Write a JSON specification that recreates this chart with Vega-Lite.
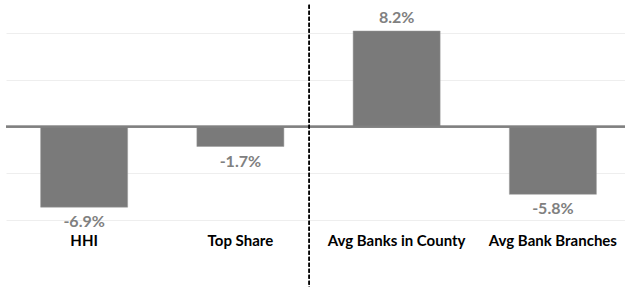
{
  "$schema": "https://vega.github.io/schema/vega-lite/v6.json",
  "autosize": "none",
  "width": 619,
  "height": 210,
  "padding": {"left": 6, "top": 10, "right": 0, "bottom": 67},
  "background": "white",
  "config": {"view": {"stroke": null}, "font": "Lato"},
  "data": {"values": [
    {"metric": "HHI", "value": -0.069, "label": "-6.9%"},
    {"metric": "Top Share", "value": -0.017, "label": "-1.7%"},
    {"metric": "Avg Banks in County", "value": 0.082, "label": "8.2%"},
    {"metric": "Avg Bank Branches", "value": -0.058, "label": "-5.8%"}
  ]},
  "encoding": {
    "x": {"field": "metric", "type": "nominal", "sort": null,
      "scale": {"range": [0, 625], "paddingInner": 0.443, "paddingOuter": 0.2215},
      "axis": {"title": null, "domain": false, "ticks": false, "labelAngle": 0,
        "labelFont": "Lato", "labelFontSize": 15, "labelFontWeight": "bold", "labelColor": "#000000",
        "labelPadding": 13}}
  },
  "layer": [
    {
      "mark": {"type": "bar", "color": "#7a7a7a", "stroke": "#9a9a9a", "strokeWidth": 0.5},
      "encoding": {
        "y": {"field": "value", "type": "quantitative",
          "scale": {"domain": [-0.08, 0.1], "nice": false, "zero": false},
          "axis": {"title": null, "labels": false, "ticks": false, "domain": false,
            "values": [-0.08, -0.06, -0.04, -0.02, 0, 0.02, 0.04, 0.06, 0.08, 0.1],
            "gridColor": "#eeeeee", "gridWidth": 1}}
      }
    },
    {
      "mark": {"type": "rule", "color": "#808080", "strokeWidth": 1.8},
      "encoding": {"y": {"datum": 0, "type": "quantitative"}, "x": {"value": 0}, "x2": {"value": 625}}
    },
    {
      "transform": [{"filter": "datum.value >= 0"}],
      "mark": {"type": "text", "font": "Lato", "fontSize": 16, "fontWeight": "bold", "color": "#808080", "baseline": "middle", "dy": -13},
      "encoding": {"y": {"field": "value", "type": "quantitative"}, "text": {"field": "label"}}
    },
    {
      "transform": [{"filter": "datum.value < 0"}],
      "mark": {"type": "text", "font": "Lato", "fontSize": 16, "fontWeight": "bold", "color": "#808080", "baseline": "middle", "dy": 15},
      "encoding": {"y": {"field": "value", "type": "quantitative"}, "text": {"field": "label"}}
    },
    {
      "mark": {"type": "rule", "color": "#000000", "strokeWidth": 1, "strokeDash": [4, 2]},
      "encoding": {
        "x": {"datum": "Top Share", "bandPosition": 1.29},
        "y": {"datum": 0.1045, "type": "quantitative"},
        "y2": {"datum": -0.14}
      }
    }
  ]
}
